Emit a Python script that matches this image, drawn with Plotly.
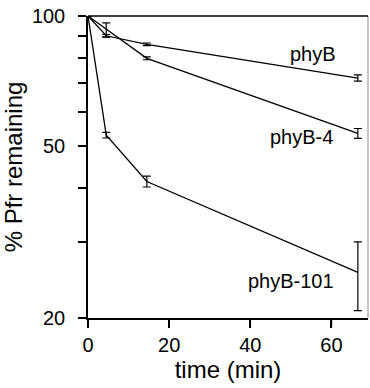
import plotly.graph_objects as go
import math

time_min = [0, 4.5, 14.5, 66.5]

phyB = [100, 90.0, 86.0, 71.8]
phyB_err_plus = [0, 0.6, 0.6, 1.3]
phyB_err_minus = [0, 0.6, 0.6, 1.1]

phyB4 = [100, 93.2, 79.8, 53.5]
phyB4_err_plus = [0, 3.2, 0.6, 1.4]
phyB4_err_minus = [0, 3.7, 0.6, 1.4]

phyB101 = [100, 53.0, 41.4, 25.5]
phyB101_err_plus = [0, 0.8, 1.2, 4.5]
phyB101_err_minus = [0, 0.8, 1.2, 4.7]

series = [
    ("phyB", phyB, phyB_err_plus, phyB_err_minus),
    ("phyB-4", phyB4, phyB4_err_plus, phyB4_err_minus),
    ("phyB-101", phyB101, phyB101_err_plus, phyB101_err_minus),
]

x_ticks = [0, 20, 40, 60]
y_ticks = [20, 30, 40, 50, 60, 70, 80, 90, 100]
y_tick_labels = ["20", "", "", "50", "", "", "", "", "100"]

FONT = "Liberation Sans, Arial, Helvetica, sans-serif"
TICKLEN = 8
PLOT_W, PLOT_H = 280, 302

fig = go.Figure()
for name, vals, ep, em in series:
    fig.add_trace(go.Scatter(
        x=time_min, y=vals, mode="lines", name=name,
        line=dict(color="black", width=1.3),
        error_y=dict(type="data", symmetric=False, array=ep, arrayminus=em,
                     color="black", thickness=1.2, width=4),
        showlegend=False,
    ))

label_pos = {"phyB": (55.4, 81.6), "phyB-4": (52.7, 52.5), "phyB-101": (50.0, 24.4)}
for name, (lx, ly) in label_pos.items():
    fig.add_annotation(x=lx, y=math.log10(ly), text=name, showarrow=False,
                       font=dict(family=FONT, size=20, color="black"),
                       xanchor="center", yanchor="middle")

# frame: top and (faint) right border
fig.add_shape(type="line", xref="paper", yref="paper", x0=1, x1=1, y0=0, y1=1,
              line=dict(color="#888888", width=1))
fig.add_shape(type="line", xref="paper", yref="paper", x0=0, x1=1, y0=1, y1=1,
              line=dict(color="black", width=1.5))

# tick marks drawn through the axes' scales (backup for the native ticks)
for v in y_ticks:
    fig.add_shape(type="line", xref="paper", yref="y", x0=-TICKLEN / PLOT_W, x1=0,
                  y0=v, y1=v, line=dict(color="black", width=1.5))
for v in x_ticks:
    fig.add_shape(type="line", xref="x", yref="paper", x0=v, x1=v,
                  y0=-TICKLEN / PLOT_H, y1=0, line=dict(color="black", width=1.5))

fig.update_layout(
    width=370, height=388,
    margin=dict(l=88, r=2, t=16, b=70),
    paper_bgcolor="white", plot_bgcolor="white",
    font=dict(family=FONT, size=20, color="black"),
    xaxis=dict(range=[0, 69], tickmode="array", tickvals=x_ticks,
               ticks="outside", ticklen=TICKLEN, tickwidth=2, tickcolor="black",
               showline=True, linecolor="black", linewidth=1.5,
               showgrid=False, zeroline=False,
               title=dict(text="time (min)", standoff=6)),
    yaxis=dict(type="log", range=[math.log10(20), 2], tickmode="array",
               tickvals=y_ticks, ticktext=y_tick_labels,
               ticks="outside", ticklen=TICKLEN, tickwidth=2, tickcolor="black",
               ticklabelstandoff=9,
               showline=True, linecolor="black", linewidth=1.5,
               showgrid=False, zeroline=False,
               title=dict(text="% Pfr remaining", standoff=2)),
)

fig.write_html("out.html")
